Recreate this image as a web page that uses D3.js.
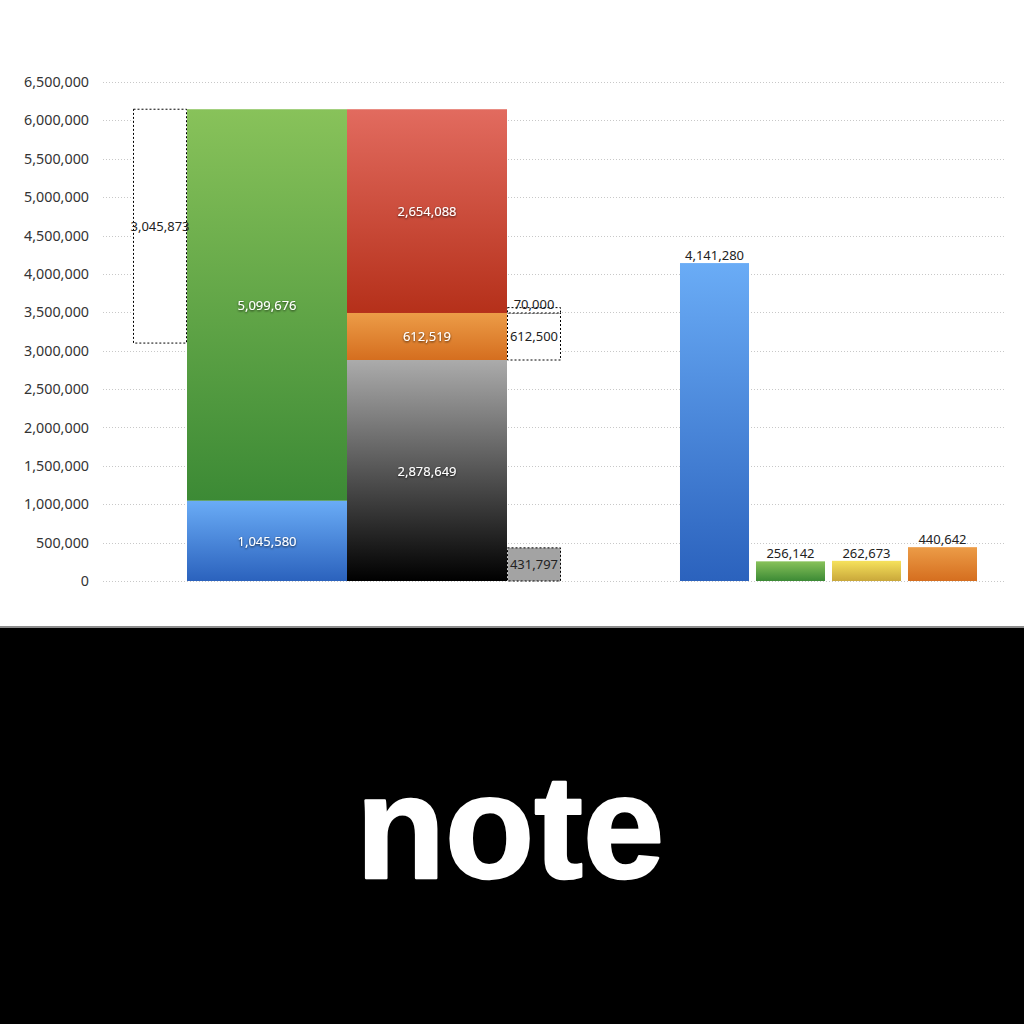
<!DOCTYPE html>
<html>
<head>
<meta charset="utf-8">
<script src="https://cdn.jsdelivr.net/npm/d3@7"></script>
<style>
  body { margin: 0; background: #fff; }
  svg { display: block; }
  .lbl { font-family: "Noto Sans", "DejaVu Sans", sans-serif; }
  .banner { font-family: "Liberation Sans", Arial, sans-serif; font-weight: bold; }
</style>
</head>
<body>
<svg id="chart" width="1024" height="1024"></svg>
<script>
// left side: two stacked bars of the same total
const totalBarValues = [1045580, 5099676];          // blue, green
const splitBarValues = [2878649, 612519, 2654088];  // black, orange, red
const leftGapValue = 3045873;                       // dashed box left of the stack
const rightGapValues = [612500, 70000];             // dashed boxes right of the split bar
const greyBoxValue = 431797;

// right side: simple bars
const rightCategories = ["a", "b", "c", "d"];
const rightValues = [4141280, 256142, 262673, 440642];

const yTicks = d3.range(0, 6500001, 500000);

const grads = {
  blue:   ["#6aacf6", "#2b62bd"],
  green:  ["#88c25a", "#3c8a35"],
  black:  ["#ababab", "#000000"],
  orange: ["#ec9c47", "#d56e1f"],
  red:    ["#e26b5f", "#b5301a"],
  yellow: ["#f6e25c", "#c9a73a"]
};

const svg = d3.select("#chart");
const defs = svg.append("defs");
Object.entries(grads).forEach(([k, c]) => {
  let g = defs.append("linearGradient").attr("id", "g-" + k)
    .attr("x1", 0).attr("y1", 0).attr("x2", 0).attr("y2", 1);
  g.append("stop").attr("offset", "0%").attr("stop-color", c[0]);
  g.append("stop").attr("offset", "100%").attr("stop-color", c[1]);
});
let shadow = defs.append("filter").attr("id", "shadow")
  .attr("x", "-20%").attr("y", "-40%").attr("width", "140%").attr("height", "180%");
shadow.append("feDropShadow").attr("dx", 0).attr("dy", 1)
  .attr("stdDeviation", 0.8).attr("flood-color", "#000").attr("flood-opacity", 0.75);

const y = d3.scaleLinear().domain([0, 6500000]).range([581, 82]);
const fmt = d3.format(",");

// grid
svg.append("g").selectAll("line").data(yTicks).join("line")
  .attr("x1", 103).attr("x2", 1005)
  .attr("y1", d => Math.round(y(d)) + 0.5).attr("y2", d => Math.round(y(d)) + 0.5)
  .attr("stroke", "#c8c8c8").attr("stroke-dasharray", "1,2");

const yAxis = svg.append("g").attr("transform", "translate(89,0)")
  .call(d3.axisLeft(y).tickValues(yTicks).tickFormat(fmt).tickSize(0).tickPadding(0));
yAxis.select(".domain").remove();
yAxis.attr("font-family", null).attr("font-size", null);
yAxis.selectAll("text").attr("class", "lbl").attr("font-size", 14.3).attr("fill", "#333");

// left stacked bars
const xL = d3.scaleBand().domain(["total", "split"]).range([187, 507]).padding(0);
const sideW = 54;

function stackOf(values) {
  let acc = 0;
  return values.map(v => { let s = { y0: acc, y1: acc + v, v: v }; acc += v; return s; });
}
const stacks = [
  { key: "total", segs: stackOf(totalBarValues), colors: ["blue", "green"] },
  { key: "split", segs: stackOf(splitBarValues), colors: ["black", "orange", "red"] }
];

stacks.forEach(st => {
  let g = svg.append("g");
  g.selectAll("rect").data(st.segs).join("rect")
    .attr("x", xL(st.key)).attr("width", xL.bandwidth())
    .attr("y", d => y(d.y1)).attr("height", d => y(d.y0) - y(d.y1))
    .attr("fill", (d, i) => `url(#g-${st.colors[i]})`);
  g.selectAll("text").data(st.segs).join("text").attr("class", "lbl")
    .attr("x", xL(st.key) + xL.bandwidth() / 2)
    .attr("y", d => (y(d.y0) + y(d.y1)) / 2 + 5)
    .attr("text-anchor", "middle").attr("font-size", 13).attr("fill", "#fff")
    .attr("filter", "url(#shadow)")
    .text(d => fmt(d.v));
});

const totalTop = d3.sum(totalBarValues);
const dashed = svg.append("g");

// dashed box on the left
dashed.append("rect")
  .attr("x", xL("total") - sideW + 0.5).attr("width", sideW - 1)
  .attr("y", y(totalTop)).attr("height", y(totalTop - leftGapValue) - y(totalTop))
  .attr("fill", "#fff").attr("stroke", "#000").attr("stroke-dasharray", "2,2");
dashed.append("text").attr("class", "lbl")
  .attr("x", xL("total") - sideW / 2).attr("y", (y(totalTop) + y(totalTop - leftGapValue)) / 2 + 5)
  .attr("text-anchor", "middle").attr("font-size", 13).attr("fill", "#222")
  .text(fmt(leftGapValue));

// dashed boxes on the right of split bar
const rx = xL("split") + xL.bandwidth();
const rightStack = stackOf(rightGapValues).map(d => ({ y0: d.y0 + splitBarValues[0], y1: d.y1 + splitBarValues[0], v: d.v }));
dashed.selectAll(".rg").data(rightStack).join("rect").attr("class", "rg")
  .attr("x", rx + 0.5).attr("width", sideW - 1)
  .attr("y", d => y(d.y1)).attr("height", d => y(d.y0) - y(d.y1))
  .attr("fill", "#fff").attr("stroke", "#000").attr("stroke-dasharray", "2,2");
dashed.selectAll(".rgt").data(rightStack).join("text").attr("class", "lbl")
  .attr("x", rx + sideW / 2)
  .attr("y", d => (y(d.y0) - y(d.y1)) > 20 ? (y(d.y0) + y(d.y1)) / 2 + 5 : y(d.y1) + 1)
  .attr("text-anchor", "middle").attr("font-size", 13).attr("fill", "#222")
  .text(d => fmt(d.v));

// grey box at the bottom right of split bar
dashed.append("rect")
  .attr("x", rx + 0.5).attr("width", sideW - 1)
  .attr("y", y(greyBoxValue)).attr("height", y(0) - y(greyBoxValue))
  .attr("fill", "#a3a3a3").attr("stroke", "#000").attr("stroke-dasharray", "2,2");
dashed.append("text").attr("class", "lbl")
  .attr("x", rx + sideW / 2).attr("y", (y(0) + y(greyBoxValue)) / 2 + 5)
  .attr("text-anchor", "middle").attr("font-size", 13).attr("fill", "#222")
  .text(fmt(greyBoxValue));

// right bars
const xR = d3.scaleBand().domain(rightCategories).range([676.5, 980.5])
  .paddingInner(0.092).paddingOuter(0.046);
const rightColors = ["blue", "green", "yellow", "orange"];
const rg = svg.append("g");
rg.selectAll("rect").data(rightValues).join("rect")
  .attr("x", (d, i) => xR(rightCategories[i])).attr("width", xR.bandwidth())
  .attr("y", d => y(d)).attr("height", d => y(0) - y(d))
  .attr("fill", (d, i) => `url(#g-${rightColors[i]})`);
rg.selectAll("text").data(rightValues).join("text").attr("class", "lbl")
  .attr("x", (d, i) => xR(rightCategories[i]) + xR.bandwidth() / 2)
  .attr("y", d => y(d) - 3)
  .attr("text-anchor", "middle").attr("font-size", 13).attr("fill", "#222")
  .text(d => fmt(d));

// bottom banner
svg.append("rect").attr("x", 0).attr("y", 626).attr("width", 1024).attr("height", 2).attr("fill", "#8c8c8c");
svg.append("rect").attr("x", 0).attr("y", 628).attr("width", 1024).attr("height", 396).attr("fill", "#000");
svg.append("text").attr("class", "banner").attr("x", 510).attr("y", 878)
  .attr("text-anchor", "middle").attr("font-size", 146)
  .attr("letter-spacing", 0)
  .attr("stroke", "#fff").attr("stroke-width", 2.5).attr("stroke-linejoin", "round")
  .attr("fill", "#fff").text("note");
</script>
</body>
</html>
